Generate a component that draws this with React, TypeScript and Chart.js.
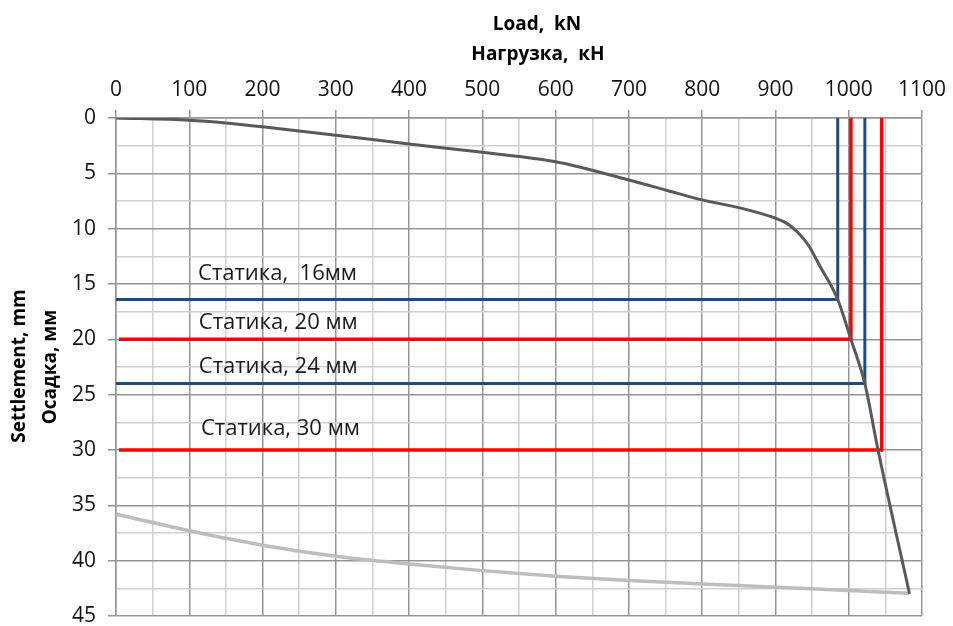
import React, { useEffect, useRef } from "react";
import { Chart, registerables } from "chart.js";

Chart.register(...registerables);

// ---- data ----
const loadingLoad = [0, 100, 150, 200, 300, 400, 500, 600, 700, 750, 800, 850, 900, 915, 930, 945, 960, 985, 1003, 1022, 1040, 1083];
const loadingSettlement = [0, 0.2, 0.45, 0.8, 1.55, 2.35, 3.1, 3.95, 5.6, 6.5, 7.4, 8.1, 9.05, 9.5, 10.3, 11.5, 13.3, 16.4, 20.0, 24.0, 30.0, 43.0];

const unloadingLoad = [0, 100, 200, 300, 400, 500, 600, 700, 800, 900, 1000, 1083];
const unloadingSettlement = [35.8, 37.3, 38.6, 39.6, 40.3, 40.9, 41.4, 41.8, 42.1, 42.4, 42.7, 42.95];

const staticLabels = ["Статика,  16мм", "Статика, 20 мм", "Статика, 24 мм", "Статика, 30 мм"];
const staticSettlement = [16.4, 20, 24, 30];
const staticLoad = [985, 1003, 1022, 1045];
const staticStartLoad = [0, 4, 0, 4];
const staticLabelLoad = [112, 113, 113, 116];
const staticLabelSettlement = [14.1, 18.5, 22.45, 28.1];

const xTitleLines = ["Load,  kN", "Нагрузка,  кН"];
const yTitleLines = ["Settlement, mm", "Осадка, мм"];

const xMin = 0, xMax = 1100, xMajor = 100, xMinor = 50;
const yMin = 0, yMax = 45, yMajor = 5, yMinor = 2.5;

// ---- styles ----
const MAJOR = "#959595";
const MINOR = "#cfcfcf";
const BLUE = "#1f4a7e";
const RED = "#ff0000";
const staticColors = [BLUE, RED, BLUE, RED];
const FONT = '"Open Sans", "DejaVu Sans", sans-serif';

const textPlugin = {
  id: "texts",
  afterDraw(chart: any) {
    const { ctx, scales } = chart;
    const xs = scales.x, ys = scales.y;
    ctx.save();
    ctx.fillStyle = "#000";
    ctx.font = `bold 19px ${FONT}`;
    ctx.textAlign = "center";
    ctx.textBaseline = "middle";
    ctx.fillText(xTitleLines[0], 537, 25);
    ctx.fillText(xTitleLines[1], 538, 55);
    ctx.save();
    ctx.translate(20, 366);
    ctx.rotate(-Math.PI / 2);
    ctx.fillText(yTitleLines[0], 0, 0);
    ctx.restore();
    ctx.save();
    ctx.translate(51, 367);
    ctx.rotate(-Math.PI / 2);
    ctx.fillText(yTitleLines[1], 0, 0);
    ctx.restore();

    ctx.font = `22px ${FONT}`;
    ctx.textAlign = "left";
    ctx.fillStyle = "#1a1a1a";
    staticLabels.forEach((t, i) => {
      ctx.fillText(t, xs.getPixelForValue(staticLabelLoad[i]), ys.getPixelForValue(staticLabelSettlement[i]));
    });
    ctx.restore();
  },
};

export default function App() {
  const ref = useRef<HTMLCanvasElement>(null);
  useEffect(() => {
    const canvas = ref.current!;
    const pts = (xs: number[], ys: number[]) => xs.map((x, i) => ({ x, y: ys[i] }));
    const datasets: any[] = [
      {
        label: "loading",
        data: pts(loadingLoad, loadingSettlement),
        borderColor: "#595959",
        borderWidth: 3,
        pointRadius: 0,
        cubicInterpolationMode: "monotone",
      },
      {
        label: "unloading",
        data: pts(unloadingLoad, unloadingSettlement),
        borderColor: "#bdbdbd",
        borderWidth: 3.5,
        pointRadius: 0,
        cubicInterpolationMode: "monotone",
      },
      ...staticSettlement.map((s, i) => ({
        label: staticLabels[i],
        data: [
          { x: staticStartLoad[i], y: s },
          { x: staticLoad[i], y: s },
          { x: staticLoad[i], y: 0 },
        ],
        borderColor: staticColors[i],
        borderWidth: staticColors[i] === RED ? 3.5 : 3,
        pointRadius: 0,
        tension: 0,
        borderJoinStyle: "miter",
      })),
    ];
    const isMajor = (v: number, step: number) => Math.abs(v / step - Math.round(v / step)) < 1e-6;
    const chart = new Chart(canvas, {
      type: "line",
      data: { datasets },
      plugins: [textPlugin],
      options: {
        responsive: false,
        animation: false,
        layout: { padding: { left: 0, top: 0, right: 31, bottom: 10 } },
        plugins: { legend: { display: false }, tooltip: { enabled: false } },
        scales: {
          x: {
            type: "linear",
            position: "top",
            min: xMin,
            max: xMax,
            ticks: {
              stepSize: xMinor,
              autoSkip: false,
              maxRotation: 0,
              padding: 7,
              color: "#111",
              font: { family: FONT, size: 21 },
              callback: (v: any) => (isMajor(v, xMajor) ? String(v) : ""),
            },
            grid: {
              color: (c: any) => (c.tick && isMajor(c.tick.value, xMajor) ? MAJOR : MINOR),
              tickColor: (c: any) => (c.tick && isMajor(c.tick.value, xMajor) ? MAJOR : "rgba(0,0,0,0)"),
              tickLength: 8,
              lineWidth: 1.5,
            },
            border: { display: true, color: MAJOR, width: 1.5 },
            afterFit: (s: any) => {
              s.height = 118;
              s.paddingLeft = 0;
              s.paddingRight = 0;
            },
          },
          y: {
            type: "linear",
            reverse: true,
            min: yMin,
            max: yMax,
            ticks: {
              stepSize: yMinor,
              autoSkip: false,
              padding: 12,
              color: "#111",
              font: { family: FONT, size: 21 },
              callback: (v: any) => (isMajor(v, yMajor) ? String(v) : ""),
            },
            grid: {
              color: (c: any) => (c.tick && isMajor(c.tick.value, yMajor) ? MAJOR : MINOR),
              tickColor: (c: any) => (c.tick && isMajor(c.tick.value, yMajor) ? MAJOR : "rgba(0,0,0,0)"),
              tickLength: 8,
              lineWidth: 1.5,
            },
            border: { display: true, color: MAJOR, width: 1.5 },
            afterFit: (s: any) => {
              s.width = 116;
              s.paddingTop = 0;
              s.paddingBottom = 0;
            },
          },
        },
      } as any,
    });
    return () => chart.destroy();
  }, []);
  return (
    <div style={{ position: "fixed", left: 0, top: 0, width: 953, height: 626, background: "#fff" }}>
      <canvas ref={ref} width={953} height={626} style={{ width: 953, height: 626, display: "block" }} />
    </div>
  );
}
